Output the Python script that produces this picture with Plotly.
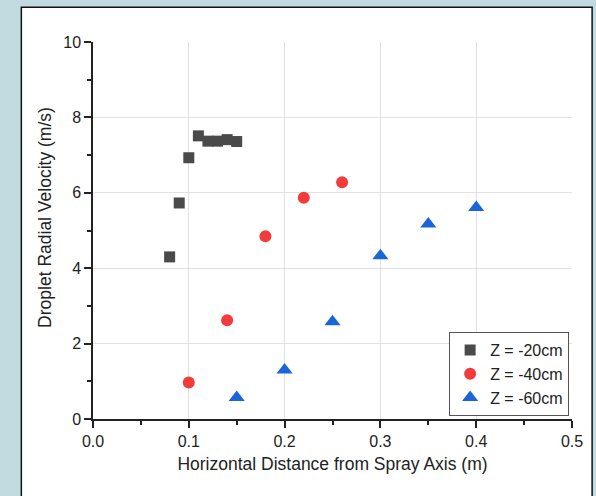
import plotly.graph_objects as go

# Horizontal distance from spray axis (m) and droplet radial velocity (m/s)
x_z20 = [0.08, 0.09, 0.10, 0.11, 0.12, 0.13, 0.14, 0.15]
v_z20 = [4.30, 5.73, 6.93, 7.51, 7.37, 7.37, 7.41, 7.36]

x_z40 = [0.10, 0.14, 0.18, 0.22, 0.26]
v_z40 = [0.97, 2.62, 4.85, 5.87, 6.28]

x_z60 = [0.15, 0.20, 0.25, 0.30, 0.35, 0.40]
v_z60 = [0.57, 1.30, 2.58, 4.33, 5.17, 5.61]

series = [
    ("Z = -20cm", x_z20, v_z20, "square", 11, "#4a4a4a"),
    ("Z = -40cm", x_z40, v_z40, "circle", 12, "#f23b3b"),
    ("Z = -60cm", x_z60, v_z60, "triangle-up", 14, "#1a66d9"),
]

FONT = "Liberation Sans, Arial, Helvetica, sans-serif"

fig = go.Figure()
for name, xs, ys, sym, size, col in series:
    fig.add_trace(go.Scatter(
        x=xs, y=ys, mode="markers", name=name,
        marker=dict(symbol=sym, size=size, color=col, line=dict(width=0)),
    ))

axis_common = dict(
    showline=True, linecolor="#222222", linewidth=1.5,
    ticks="outside", ticklen=7, tickwidth=1.5, tickcolor="#222222",
    showgrid=True, gridcolor="#e2e2e2", gridwidth=1,
    zeroline=False, mirror=False,
    tickfont=dict(family=FONT, size=16, color="#222222"),
)

fig.update_xaxes(
    range=[0, 0.5], dtick=0.1, tickformat=".1f",
    minor=dict(dtick=0.05, ticks="outside", ticklen=4, tickwidth=1.5,
               tickcolor="#222222", showgrid=False),
    title=dict(text="Horizontal Distance from Spray Axis (m)",
               font=dict(family=FONT, size=17.5, color="#222222"), standoff=9),
    **axis_common,
)
fig.update_yaxes(
    range=[0, 10], dtick=2,
    minor=dict(dtick=1, ticks="outside", ticklen=4, tickwidth=1.5,
               tickcolor="#222222", showgrid=False),
    **axis_common,
)

# Vertical axis title, set a little above the middle of the axis
fig.add_annotation(
    text="Droplet Radial Velocity (m/s)", textangle=-90,
    xref="paper", yref="paper", x=-0.099, y=0.535,
    xanchor="center", yanchor="middle", showarrow=False,
    font=dict(family=FONT, size=17.5, color="#222222"),
)

# White page panel with a dark frame sitting on the tinted backdrop
fig.add_shape(
    type="rect", xref="paper", yref="paper",
    x0=-0.1496, x1=1.042, y0=-0.25, y1=1.092,
    fillcolor="white", line=dict(color="#111111", width=1.5), layer="below",
)

fig.update_layout(
    width=596, height=496,
    margin=dict(l=93, r=24, t=42, b=77),
    paper_bgcolor="#c2dbe0",
    plot_bgcolor="white",
    font=dict(family=FONT, color="#222222"),
    showlegend=True,
    legend=dict(
        x=0.994, y=0.008, xanchor="right", yanchor="bottom",
        bgcolor="white", bordercolor="#555555", borderwidth=1,
        font=dict(family=FONT, size=16, color="#222222"),
        tracegroupgap=0, itemsizing="trace",
    ),
)

fig.write_html("out.html")
